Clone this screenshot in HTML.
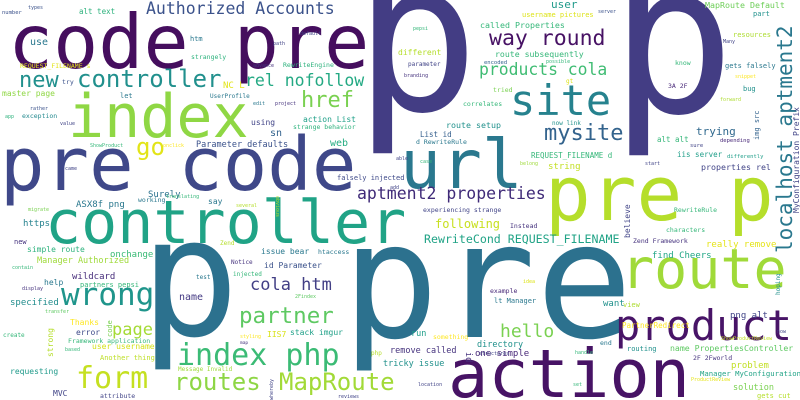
<!DOCTYPE html>
<html><head><meta charset="utf-8"><style>
html,body{margin:0;padding:0;background:#fff;}
svg{display:block;}
text{font-family:"DejaVu Sans Mono","Liberation Mono",monospace;}
</style></head><body>
<svg width="800" height="400" viewBox="0 0 800 400" xmlns="http://www.w3.org/2000/svg">
<rect x="0" y="0" width="800" height="400" fill="#ffffff"/>
<g>
<text x="354" y="110" font-size="208" fill="#433d84">p</text>
<text x="610" y="112" font-size="208" fill="#433d84">p</text>
<text x="140" y="335" font-size="165" fill="#2c718e">p</text>
<text x="342" y="337" font-size="161" fill="#2c718e">pre</text>
<text x="8" y="68" font-size="75" fill="#450e5e">code pre</text>
<text x="0" y="190" font-size="74" fill="#3f4889">pre code</text>
<text x="68" y="137" font-size="60" fill="#8fd744">index</text>
<text x="45" y="243" font-size="60" fill="#20a386">controller</text>
<text x="400" y="188" font-size="68" fill="#2a788e">url</text>
<text x="510" y="115" font-size="42" fill="#26828e">site</text>
<text x="545" y="220" font-size="76" fill="#b5de2b">pre p</text>
<text x="448" y="397" font-size="67" fill="#471365">action</text>
<text x="615" y="340" font-size="42" fill="#481467">product</text>
<text x="621" y="288" font-size="55" fill="#a0da39">route</text>
<text x="792" y="253" font-size="21" fill="#2a788e" transform="rotate(-90 792 253)">localhost aptment2</text>
<text x="799" y="213" font-size="8" fill="#414487" transform="rotate(-90 799 213)">MyConfiguration Prefix</text>

<text x="146" y="14" font-size="16.5" fill="#3b528b">Authorized Accounts</text>
<text x="79" y="14" font-size="7.5" fill="#2db27d">alt text</text>
<text x="2" y="14" font-size="5.5" fill="#3b528b">number</text>
<text x="28" y="9" font-size="5" fill="#3b528b">types</text>
<text x="30" y="45" font-size="10" fill="#2a788e">use</text>
<text x="190" y="41" font-size="7" fill="#2a788e">htm</text>
<text x="191" y="59" font-size="6.5" fill="#2db27d">strangely</text>
<text x="300" y="35" font-size="5" fill="#414487">default</text>
<text x="273" y="45" font-size="5" fill="#414487">path</text>
<text x="20" y="68" font-size="6.5" fill="#e2e418">REQUEST_FILENAME s</text>
<text x="253" y="67" font-size="5" fill="#46337e">advance</text>
<text x="283" y="67" font-size="6.5" fill="#2db27d">RewriteEngine</text>
<text x="19" y="87" font-size="22" fill="#21908d">new</text>
<text x="62" y="84" font-size="6.5" fill="#3b528b">try</text>
<text x="77" y="87" font-size="24" fill="#21908d">controller</text>
<text x="223" y="88" font-size="9" fill="#e2e418">NC L</text>
<text x="245" y="86" font-size="16.5" fill="#23a983">rel nofollow</text>
<text x="2" y="96" font-size="8" fill="#8fd744">master page</text>
<text x="120" y="98" font-size="7" fill="#2a788e">let</text>
<text x="210" y="98" font-size="6" fill="#2a788e">UserProfile</text>
<text x="301" y="107" font-size="22" fill="#7ad151">href</text>
<text x="30" y="110" font-size="5" fill="#3b528b">rather</text>
<text x="5" y="118" font-size="5" fill="#2db27d">app</text>
<text x="22" y="118" font-size="6.5" fill="#23898e">exception</text>
<text x="60" y="125" font-size="5" fill="#414487">value</text>
<text x="253" y="105" font-size="5" fill="#2a788e">edit</text>
<text x="275" y="105" font-size="5" fill="#46337e">project</text>
<text x="303" y="122" font-size="8" fill="#1fa088">action List</text>
<text x="251" y="125" font-size="8" fill="#414487">using</text>
<text x="270" y="136" font-size="10" fill="#33638d">sn</text>
<text x="293" y="129" font-size="6.5" fill="#2db27d">strange behavior</text>
<text x="330" y="146" font-size="10" fill="#25ac82">web</text>
<text x="196" y="147" font-size="8.5" fill="#3b528b">Parameter defaults</text>
<text x="136" y="155" font-size="24" fill="#e2e418">go</text>
<text x="90" y="147" font-size="5" fill="#35b779">ShowProduct</text>
<text x="163" y="147" font-size="5" fill="#fde725">onclick</text>
<text x="65" y="170" font-size="5" fill="#414487">came</text>
<text x="337" y="180" font-size="7" fill="#3e4989">falsely injected</text>
<text x="390" y="189" font-size="5" fill="#414487">add</text>
<text x="357" y="199" font-size="16.5" fill="#3f2a78">aptment2 properties</text>
<text x="148" y="197" font-size="9" fill="#2c728e">Surely</text>
<text x="76" y="207" font-size="9" fill="#2a788e">ASX8f png</text>
<text x="208" y="204" font-size="8" fill="#2a788e">say</text>
<text x="138" y="202" font-size="6.5" fill="#2a788e">working</text>
<text x="166" y="198" font-size="5" fill="#35b779">translating</text>
<text x="28" y="211" font-size="5" fill="#7ad151">migrate</text>
<text x="236" y="207" font-size="5" fill="#b5de2b">several</text>
<text x="298" y="218" font-size="5" fill="#b5de2b" transform="rotate(90 298 196)">obvious</text>
<text x="23" y="226" font-size="9" fill="#26828e">https</text>
<text x="14" y="244" font-size="7" fill="#46337e">new</text>
<text x="220" y="245" font-size="6" fill="#b5de2b">Zend</text>
<text x="27" y="252" font-size="8" fill="#2db27d">simple route</text>
<text x="110" y="257" font-size="9" fill="#3aba76">onchange</text>
<text x="261" y="254" font-size="8" fill="#2a788e">issue bear</text>
<text x="318" y="254" font-size="6.5" fill="#2a788e">htaccess</text>
<text x="37" y="263" font-size="8.5" fill="#9fda3a">Manager Authorized</text>
<text x="231" y="264" font-size="6" fill="#46337e">Notice</text>
<text x="264" y="268" font-size="8" fill="#3b528b">id Parameter</text>
<text x="12" y="269" font-size="5" fill="#35b779">contain</text>
<text x="196" y="279" font-size="6" fill="#2a788e">test</text>
<text x="233" y="276" font-size="6" fill="#35b779">injected</text>
<text x="72" y="279" font-size="9" fill="#472d7b">wildcard</text>
<text x="44" y="285" font-size="8" fill="#2a788e">help</text>
<text x="80" y="287" font-size="7" fill="#35b779">partners pepsi</text>
<text x="250" y="290" font-size="17" fill="#423f85">cola htm</text>
<text x="22" y="290" font-size="5" fill="#46337e">display</text>
<text x="61" y="305" font-size="31" fill="#1f958b">wrong</text>
<text x="179" y="300" font-size="10" fill="#443a83">name</text>
<text x="295" y="298" font-size="5" fill="#5ec962">2Findex</text>
<text x="10" y="305" font-size="9" fill="#228d8d">specified</text>
<text x="239" y="323" font-size="22.5" fill="#5ec962">partner</text>
<text x="45" y="313" font-size="5" fill="#5ec962">transfer</text>
<text x="70" y="325" font-size="8" fill="#fde725">Thanks</text>
<text x="112" y="337" font-size="7" fill="#7ad151" transform="rotate(-90 112 337)">code</text>
<text x="112" y="335" font-size="17" fill="#a5db36">page</text>
<text x="76" y="335" font-size="8" fill="#3e4a89">error</text>
<text x="53" y="357" font-size="8" fill="#b5de2b" transform="rotate(-90 53 357)">strong</text>
<text x="267" y="337" font-size="8" fill="#d8e219">IIS7</text>
<text x="290" y="335" font-size="8" fill="#1fa088">stack imgur</text>
<text x="3" y="337" font-size="6" fill="#35b779">create</text>
<text x="68" y="343" font-size="6.5" fill="#35b779">Framework application</text>
<text x="240" y="338" font-size="5" fill="#fde725">styling</text>
<text x="240" y="344" font-size="4.5" fill="#46337e">map</text>
<text x="92" y="349" font-size="8" fill="#d5e21a">user username</text>
<text x="65" y="351" font-size="5" fill="#35b779">based</text>
<text x="177" y="365" font-size="30" fill="#3bbb75">index php</text>
<text x="371" y="355" font-size="6" fill="#b5de2b">php</text>
<text x="100" y="360" font-size="7" fill="#bddf26">Another thing</text>
<text x="10" y="374" font-size="8" fill="#1f9a8a">requesting</text>
<text x="178" y="371" font-size="6" fill="#9fda3a">Message Invalid</text>
<text x="76" y="388" font-size="30" fill="#c5e021">form</text>
<text x="174" y="390" font-size="24" fill="#8ed645">routes</text>
<text x="279" y="390" font-size="24" fill="#a2da37">MapRoute</text>
<text x="53" y="396" font-size="8" fill="#414487">MVC</text>
<text x="100" y="398" font-size="6.5" fill="#414487">attribute</text>
<text x="273" y="400" font-size="5" fill="#414487" transform="rotate(-90 273 400)">whereby</text>
<text x="338" y="398" font-size="5" fill="#414487">reviews</text>

<text x="551" y="8" font-size="11" fill="#1f9a8a">user</text>
<text x="705" y="8" font-size="8.3" fill="#6ece58">MapRoute Default</text>
<text x="522" y="17" font-size="7" fill="#dde318">username pictures</text>
<text x="598" y="13" font-size="5" fill="#3b528b">server</text>
<text x="480" y="28" font-size="8.3" fill="#35b779">called Properties</text>
<text x="413" y="30" font-size="5" fill="#35b779">pepsi</text>
<text x="753" y="16" font-size="7" fill="#21918c">part</text>
<text x="733" y="37" font-size="7" fill="#addc30">resources</text>
<text x="723" y="43" font-size="5" fill="#414487">Many</text>
<text x="489" y="45" font-size="21.5" fill="#471164">way round</text>
<text x="398" y="55" font-size="8" fill="#b5de2b">different</text>
<text x="495" y="57" font-size="8.2" fill="#35b779">route subsequently</text>
<text x="408" y="66" font-size="6" fill="#414487">parameter</text>
<text x="484" y="64" font-size="5.5" fill="#33638d">encoded</text>
<text x="546" y="63" font-size="5" fill="#35b779">possible</text>
<text x="675" y="65" font-size="6.5" fill="#35b779">know</text>
<text x="725" y="68" font-size="7" fill="#2a788e">gets falsely</text>
<text x="479" y="75" font-size="16.4" fill="#3fbc73">products cola</text>
<text x="404" y="77" font-size="5" fill="#46337e">branding</text>
<text x="735" y="78" font-size="5" fill="#fde725">snippet</text>
<text x="566" y="83" font-size="6" fill="#dde318">gt</text>
<text x="668" y="88" font-size="6.5" fill="#482878">3A 2F</text>
<text x="743" y="91" font-size="7" fill="#21918c">bug</text>
<text x="493" y="92" font-size="6.5" fill="#7ad151">tried</text>
<text x="720" y="101" font-size="5" fill="#addc30">forward</text>
<text x="463" y="106" font-size="6.5" fill="#35b779">correlates</text>
<text x="552" y="125" font-size="6" fill="#21918c">now link</text>
<text x="446" y="128" font-size="8.3" fill="#21918c">route setup</text>
<text x="696" y="135" font-size="11" fill="#30698e">trying</text>
<text x="420" y="137" font-size="7.5" fill="#355f8d">List id</text>
<text x="544" y="140" font-size="22" fill="#33638d">mysite</text>
<text x="759" y="140" font-size="7" fill="#33638d" transform="rotate(-90 759 140)">img src</text>
<text x="657" y="142" font-size="7.5" fill="#35b779">alt alt</text>
<text x="720" y="142" font-size="5.5" fill="#482878">depending</text>
<text x="416" y="144" font-size="6.5" fill="#2a788e">d RewriteRule</text>
<text x="690" y="147" font-size="5.5" fill="#414487">sure</text>
<text x="677" y="157" font-size="7.5" fill="#1f9e89">iis server</text>
<text x="531" y="158" font-size="7.5" fill="#35b779">REQUEST_FILENAME d</text>
<text x="727" y="158" font-size="5.5" fill="#1f9e89">differently</text>
<text x="396" y="160" font-size="5" fill="#414487">able</text>
<text x="420" y="163" font-size="5" fill="#35b779">case</text>
<text x="520" y="165" font-size="5" fill="#9fda3a">belong</text>
<text x="645" y="165" font-size="5" fill="#414487">start</text>
<text x="548" y="169" font-size="9" fill="#c2df23">string</text>
<text x="701" y="170" font-size="8.3" fill="#414487">properties rel</text>

<text x="423" y="212" font-size="6.5" fill="#414487">experiencing strange</text>
<text x="630" y="238" font-size="8" fill="#414487" transform="rotate(-90 630 238)">believe</text>
<text x="674" y="212" font-size="6.5" fill="#35b779">RewriteRule</text>
<text x="435" y="228" font-size="12" fill="#c8e020">following</text>
<text x="510" y="228" font-size="6.5" fill="#46337e">Instead</text>
<text x="666" y="232" font-size="6.5" fill="#35b779">characters</text>
<text x="424" y="243" font-size="11.6" fill="#20a386">RewriteCond REQUEST_FILENAME</text>
<text x="633" y="243" font-size="6.5" fill="#46337e">Zend Framework</text>
<text x="706" y="247" font-size="9" fill="#e5e419">really remove</text>
<text x="652" y="258" font-size="9" fill="#21a685">find Cheers</text>
<text x="780" y="295" font-size="6" fill="#21918c" transform="rotate(-90 780 295)">hoping</text>
<text x="523" y="283" font-size="5" fill="#dde318">idea</text>
<text x="490" y="293" font-size="6.5" fill="#482878">example</text>
<text x="494" y="303" font-size="7" fill="#2a788e">lt Manager</text>
<text x="603" y="306" font-size="9" fill="#21918c">want</text>
<text x="623" y="307" font-size="7" fill="#addc30">view</text>
<text x="730" y="318" font-size="9" fill="#414487">png alt</text>
<text x="622" y="328" font-size="7.5" fill="#fde725">PartnerRedirect</text>
<text x="721" y="340" font-size="5" fill="#c2df23">ShowProductReview</text>
<text x="777" y="333" font-size="5" fill="#414487">now</text>
<text x="500" y="337" font-size="18" fill="#7ad151">hello</text>
<text x="411" y="336" font-size="8.5" fill="#1f9e89">run</text>
<text x="433" y="339" font-size="6.5" fill="#fde725">something</text>
<text x="475" y="356" font-size="9" fill="#482878">one simple</text>
<text x="575" y="354" font-size="5" fill="#35b779">handle</text>
<text x="477" y="347" font-size="8.5" fill="#21918c">directory</text>
<text x="390" y="353" font-size="8.5" fill="#46337e">remove called</text>
<text x="473" y="345" font-size="8.5" fill="#46337e" transform="rotate(90 466 345)">id</text>
<text x="600" y="345" font-size="6.5" fill="#2a788e">end</text>
<text x="627" y="351" font-size="7" fill="#21918c">routing</text>
<text x="670" y="351" font-size="8.2" fill="#5ec962">name PropertiesController</text>
<text x="479" y="355" font-size="5" fill="#414487">structures</text>
<text x="693" y="360" font-size="6.5" fill="#46337e">2F 2Fworld</text>
<text x="383" y="366" font-size="8.5" fill="#21918c">tricky issue</text>
<text x="731" y="368" font-size="9" fill="#c2df23">problem</text>
<text x="700" y="376" font-size="7.3" fill="#20a386">Manager MyConfiguration</text>
<text x="691" y="381" font-size="5" fill="#e5e419">ProductReview</text>
<text x="733" y="390" font-size="8.5" fill="#7ad151">solution</text>
<text x="418" y="386" font-size="5" fill="#414487">location</text>
<text x="573" y="386" font-size="5" fill="#35b779">set</text>
<text x="757" y="398" font-size="7" fill="#b5de2b">gets cut</text>
</g>
</svg>
</body></html>
